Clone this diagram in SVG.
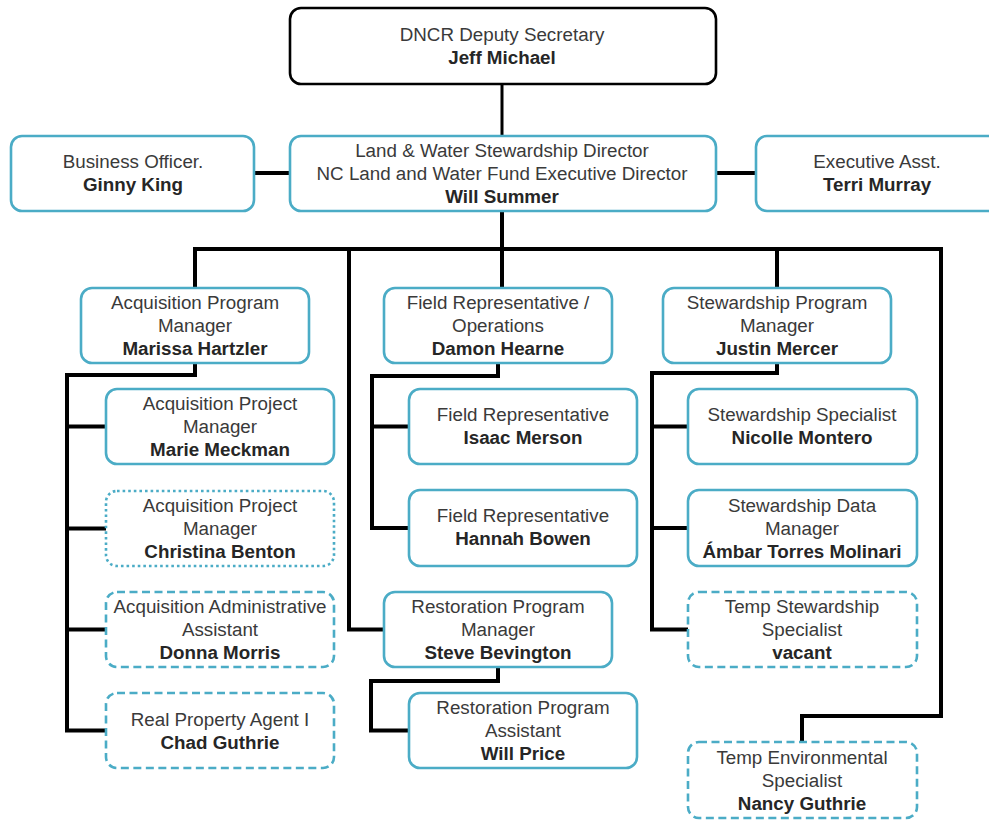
<svg xmlns="http://www.w3.org/2000/svg" width="989" height="821" viewBox="0 0 989 821">
<style>
.bg{fill:#ffffff}
.box{fill:#ffffff;stroke:#4BACC6;stroke-width:2.6}
.blk{fill:#ffffff;stroke:#000000;stroke-width:2.6}
.dash{stroke-dasharray:8 4.5}
.dot{stroke-dasharray:2.6 3}
.ln{fill:none;stroke:#000000;stroke-width:4;stroke-linejoin:miter;stroke-linecap:butt}
text{font-family:"Liberation Sans",Arial,sans-serif;font-size:18.8px;text-anchor:middle;fill:#3a3a3a}
.nm{font-weight:bold;fill:#262626}
</style>
<rect class="bg" x="0" y="0" width="989" height="821"/>
<g id="connectors">
<line class="ln" x1="502" y1="84" x2="502" y2="136" style="stroke-width:3"/>
<line class="ln" x1="254" y1="173" x2="290" y2="173"/>
<line class="ln" x1="716" y1="173" x2="756" y2="173"/>
<line class="ln" x1="502" y1="211" x2="502" y2="288"/>
<polyline class="ln" points="195,288 195,249 941,249 941,716 802,716 802,742"/>
<polyline class="ln" points="349,249 349,629.5 384,629.5"/>
<line class="ln" x1="777" y1="249" x2="777" y2="288"/>
<polyline class="ln" points="195,363 195,375 67,375 67,730.5 106,730.5"/>
<line class="ln" x1="67" y1="426.5" x2="106" y2="426.5"/>
<line class="ln" x1="67" y1="528.5" x2="106" y2="528.5"/>
<line class="ln" x1="67" y1="629.5" x2="106" y2="629.5"/>
<polyline class="ln" points="498,363 498,376 372,376 372,528 409,528"/>
<line class="ln" x1="372" y1="426.5" x2="409" y2="426.5"/>
<polyline class="ln" points="498,667 498,681 371,681 371,730.5 409,730.5"/>
<polyline class="ln" points="777,363 777,373 652,373 652,629.5 688,629.5"/>
<line class="ln" x1="652" y1="426.5" x2="688" y2="426.5"/>
<line class="ln" x1="652" y1="528" x2="688" y2="528"/>
</g>
<g id="deputy">
<rect class="blk" x="290" y="8" width="426" height="76" rx="11"/>
<text x="502" y="41">DNCR Deputy Secretary</text>
<text class="nm" x="502" y="64">Jeff Michael</text>
</g>
<g id="director">
<rect class="box" x="290" y="136" width="426" height="75" rx="11"/>
<text x="502" y="157">Land &amp; Water Stewardship Director</text>
<text x="502" y="180">NC Land and Water Fund Executive Director</text>
<text class="nm" x="502" y="203">Will  Summer</text>
</g>
<g id="business">
<rect class="box" x="11" y="136" width="243" height="75" rx="11"/>
<text x="133" y="168">Business Officer.</text>
<text class="nm" x="133" y="191">Ginny King</text>
</g>
<g id="exec">
<rect class="box" x="756" y="136" width="245" height="75" rx="11"/>
<text x="877" y="168">Executive Asst.</text>
<text class="nm" x="877" y="191">Terri Murray</text>
</g>
<g id="acq-pm">
<rect class="box" x="81" y="288" width="228" height="75" rx="11"/>
<text x="195" y="309">Acquisition Program</text>
<text x="195" y="332">Manager</text>
<text class="nm" x="195" y="355">Marissa Hartzler</text>
</g>
<g id="acq-proj-1">
<rect class="box" x="106" y="389" width="228" height="75" rx="11"/>
<text x="220" y="410">Acquisition Project</text>
<text x="220" y="433">Manager</text>
<text class="nm" x="220" y="456">Marie Meckman</text>
</g>
<g id="acq-proj-2">
<rect class="box dot" x="106" y="491" width="228" height="75" rx="11"/>
<text x="220" y="512">Acquisition Project</text>
<text x="220" y="535">Manager</text>
<text class="nm" x="220" y="558">Christina Benton</text>
</g>
<g id="acq-admin">
<rect class="box dash" x="106" y="592" width="228" height="75" rx="11"/>
<text x="220" y="613">Acquisition Administrative</text>
<text x="220" y="636">Assistant</text>
<text class="nm" x="220" y="659">Donna Morris</text>
</g>
<g id="real-property">
<rect class="box dash" x="106" y="693" width="228" height="75" rx="11"/>
<text x="220" y="726">Real Property Agent I</text>
<text class="nm" x="220" y="749">Chad Guthrie</text>
</g>
<g id="field-ops">
<rect class="box" x="384" y="288" width="228" height="75" rx="11"/>
<text x="498" y="309">Field Representative /</text>
<text x="498" y="332">Operations</text>
<text class="nm" x="498" y="355">Damon Hearne</text>
</g>
<g id="field-1">
<rect class="box" x="409" y="389" width="228" height="75" rx="11"/>
<text x="523" y="421">Field Representative</text>
<text class="nm" x="523" y="444">Isaac Merson</text>
</g>
<g id="field-2">
<rect class="box" x="409" y="490" width="228" height="76" rx="11"/>
<text x="523" y="522">Field Representative</text>
<text class="nm" x="523" y="545">Hannah Bowen</text>
</g>
<g id="rest-pm">
<rect class="box" x="384" y="592" width="228" height="75" rx="11"/>
<text x="498" y="613">Restoration Program</text>
<text x="498" y="636">Manager</text>
<text class="nm" x="498" y="659">Steve Bevington</text>
</g>
<g id="rest-asst">
<rect class="box" x="409" y="693" width="228" height="75" rx="11"/>
<text x="523" y="714">Restoration Program</text>
<text x="523" y="737">Assistant</text>
<text class="nm" x="523" y="760">Will  Price</text>
</g>
<g id="stew-pm">
<rect class="box" x="663" y="288" width="228" height="75" rx="11"/>
<text x="777" y="309">Stewardship Program</text>
<text x="777" y="332">Manager</text>
<text class="nm" x="777" y="355">Justin Mercer</text>
</g>
<g id="stew-spec">
<rect class="box" x="688" y="389" width="229" height="75" rx="11"/>
<text x="802" y="421">Stewardship Specialist</text>
<text class="nm" x="802" y="444">Nicolle Montero</text>
</g>
<g id="stew-data">
<rect class="box" x="688" y="490" width="229" height="76" rx="11"/>
<text x="802" y="512">Stewardship Data</text>
<text x="802" y="535">Manager</text>
<text class="nm" x="802" y="558">Ámbar Torres Molinari</text>
</g>
<g id="temp-stew">
<rect class="box dash" x="688" y="592" width="229" height="75" rx="11"/>
<text x="802" y="613">Temp Stewardship</text>
<text x="802" y="636">Specialist</text>
<text class="nm" x="802" y="659">vacant</text>
</g>
<g id="temp-env">
<rect class="box dash" x="688" y="742" width="229" height="76" rx="11"/>
<text x="802" y="764">Temp Environmental</text>
<text x="802" y="787">Specialist</text>
<text class="nm" x="802" y="810">Nancy Guthrie</text>
</g>
</svg>
